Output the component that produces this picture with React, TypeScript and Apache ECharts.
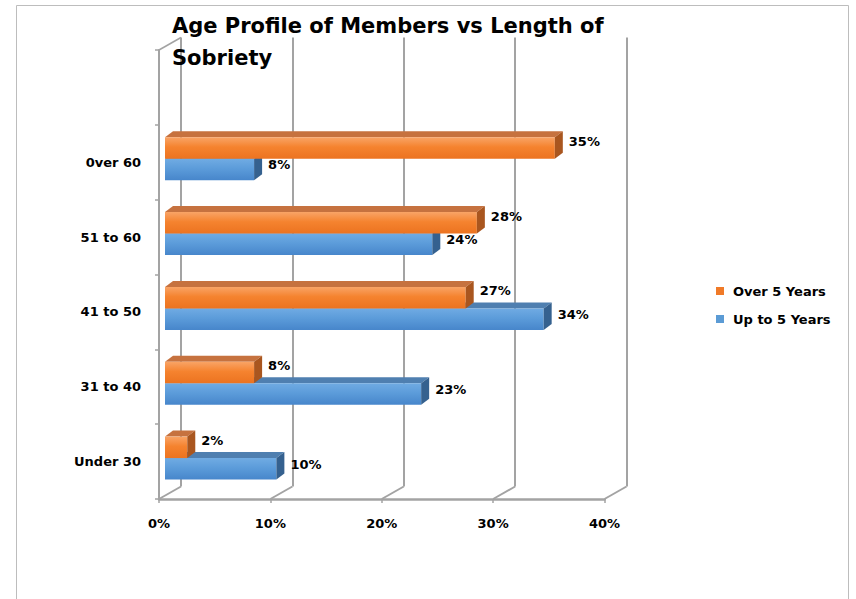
import React, { useEffect, useRef } from "react";
import * as echarts from "echarts";

// ---- data ----
const categories = ["Under 30", "31 to 40", "41 to 50", "51 to 60", "0ver 60"];
const over5Years = [2, 8, 27, 28, 35];
const upTo5Years = [10, 23, 34, 24, 8];
const xTicks = [0, 10, 20, 30, 40];
const titleText = "Age Profile of Members vs Length of\nSobriety";
const seriesNames = ["Over 5 Years", "Up to 5 Years"];

// ---- layout / style constants ----
const FONT = "'DejaVu Sans', sans-serif";
const FRONT = { left: 159, top: 50, width: 445.5, height: 449 };
const BACK_OFF = { dx: 22, dy: -12.5 };
const BAR_OFF = { dx: 6, dy: -3.5 };
const BAR_DEPTH = { dx: 8, dy: -6 };
const GRID_COLOR = "#a3a3a3";

const axisCats = [...categories, ""];

const ORANGE = {
  legend: "#f07a28",
  front: {
    type: "linear", x: 0, y: 0, x2: 0, y2: 1,
    colorStops: [
      { offset: 0, color: "#f9a466" },
      { offset: 0.45, color: "#f5832f" },
      { offset: 1, color: "#ec7320" },
    ],
  },
  top: "#c6723f",
  side: "#a9561f",
};
const BLUE = {
  legend: "#5b9bd5",
  front: {
    type: "linear", x: 0, y: 0, x2: 0, y2: 1,
    colorStops: [
      { offset: 0, color: "#70abe3" },
      { offset: 0.45, color: "#5c9cda" },
      { offset: 1, color: "#4786cb" },
    ],
  },
  top: "#4f7fb0",
  side: "#35618f",
};

function makeBarRender(upper: boolean, pal: any) {
  return (params: any, api: any) => {
    const v = api.value(0);
    const c = api.value(1);
    const start = api.coord([0, c]);
    const end = api.coord([v, c]);
    const band = api.size([0, 1])[1];
    const h = band * 0.287;
    const x0 = start[0];
    const x1 = end[0];
    const yTop = upper ? start[1] - h : start[1];
    const yBot = yTop + h;
    const { dx, dy } = BAR_DEPTH;
    return {
      type: "group",
      children: [
        {
          type: "polygon",
          shape: { points: [[x0, yTop], [x1, yTop], [x1 + dx, yTop + dy], [x0 + dx, yTop + dy]] },
          style: { fill: pal.top },
        },
        {
          type: "rect",
          shape: { x: x0, y: yTop, width: x1 - x0, height: h },
          style: { fill: pal.front },
        },
        {
          type: "polygon",
          shape: { points: [[x1, yTop], [x1 + dx, yTop + dy], [x1 + dx, yBot + dy], [x1, yBot]] },
          style: { fill: pal.side },
        },
        {
          type: "text",
          x: x1 + dx + 6,
          y: yTop + (upper ? 4 : 6),
          style: {
            text: v + "%",
            fill: "#000",
            fontFamily: FONT,
            fontWeight: "bold",
            fontSize: 13,
            verticalAlign: "middle",
            align: "left",
          },
        },
      ],
    };
  };
}

function frameRender(params: any, api: any) {
  const v = api.value(0);
  const p = api.coord([v, 0]);
  const cs = params.coordSys;
  const yb = cs.y + cs.height;
  const children: any[] = [
    {
      type: "line",
      shape: { x1: p[0], y1: yb, x2: p[0] + BACK_OFF.dx, y2: yb + BACK_OFF.dy },
      style: { stroke: GRID_COLOR, lineWidth: 2 },
    },
  ];
  if (params.dataIndex === 0) {
    children.push({
      type: "line",
      shape: { x1: p[0], y1: cs.y, x2: p[0] + BACK_OFF.dx, y2: cs.y + BACK_OFF.dy },
      style: { stroke: GRID_COLOR, lineWidth: 1.5 },
    });
  }
  return { type: "group", children };
}

const textBold = { fontFamily: FONT, fontWeight: "bold" as const, fontSize: 13, color: "#000" };

const option: any = {
  animation: false,
  backgroundColor: "#ffffff",
  title: {
    text: titleText,
    left: 172,
    top: 10,
    padding: 0,
    textStyle: { fontFamily: FONT, fontWeight: "bold", fontSize: 21, lineHeight: 32, color: "#000" },
  },
  legend: {
    data: seriesNames,
    orient: "vertical",
    left: 716,
    top: 284,
    padding: 0,
    icon: "rect",
    itemWidth: 8,
    itemHeight: 8,
    itemGap: 14,
    textStyle: { ...textBold, lineHeight: 14, padding: [0, 0, 0, 4] },
    selectedMode: false,
  },
  grid: [
    // bar plane
    { left: FRONT.left + BAR_OFF.dx, top: FRONT.top + BAR_OFF.dy, width: FRONT.width, height: FRONT.height },
    // back wall
    { left: FRONT.left + BACK_OFF.dx, top: FRONT.top + BACK_OFF.dy, width: FRONT.width, height: FRONT.height },
    // front edge
    { left: FRONT.left, top: FRONT.top, width: FRONT.width, height: FRONT.height },
  ],
  xAxis: [
    { gridIndex: 0, type: "value", min: 0, max: 40, interval: 10, show: false },
    {
      gridIndex: 1, type: "value", min: 0, max: 40, interval: 10,
      axisLine: { show: false }, axisTick: { show: false }, axisLabel: { show: false },
      splitLine: { show: true, showMinLine: true, showMaxLine: true, lineStyle: { color: GRID_COLOR, width: 2 } },
    },
    {
      gridIndex: 2, type: "value", min: 0, max: 40, interval: 10,
      axisLine: { show: true, lineStyle: { color: GRID_COLOR, width: 2.5 } },
      axisTick: { show: true, length: 4, lineStyle: { color: GRID_COLOR, width: 1.5 } },
      axisLabel: { ...textBold, margin: 18, formatter: "{value}%" },
      splitLine: { show: false },
    },
  ],
  yAxis: [
    { gridIndex: 0, type: "category", data: axisCats, show: false },
    { gridIndex: 1, type: "category", data: axisCats, show: false },
    {
      gridIndex: 2, type: "category", data: axisCats,
      axisLine: { show: true, lineStyle: { color: GRID_COLOR, width: 2 } },
      axisTick: { show: true, length: 4, lineStyle: { color: GRID_COLOR, width: 1.5 } },
      axisLabel: { ...textBold, margin: 18 },
      splitLine: { show: false },
    },
  ],
  graphic: [
    {
      type: "rect",
      shape: { x: 16.5, y: 5.5, width: 832, height: 700 },
      style: { fill: "none", stroke: "#bdbdbd", lineWidth: 1 },
      silent: true,
      z: -10,
    },
  ],
  series: [
    {
      name: "frame",
      type: "custom",
      xAxisIndex: 2,
      yAxisIndex: 2,
      silent: true,
      z: 1,
      data: xTicks.map((v) => [v, 0]),
      renderItem: frameRender,
    },
    {
      name: seriesNames[1],
      type: "custom",
      xAxisIndex: 0,
      yAxisIndex: 0,
      z: 3,
      itemStyle: { color: BLUE.legend },
      data: upTo5Years.map((v, i) => [v, i]),
      renderItem: makeBarRender(false, BLUE),
    },
    {
      name: seriesNames[0],
      type: "custom",
      xAxisIndex: 0,
      yAxisIndex: 0,
      z: 4,
      itemStyle: { color: ORANGE.legend },
      data: over5Years.map((v, i) => [v, i]),
      renderItem: makeBarRender(true, ORANGE),
    },
  ],
};

export default function App() {
  const ref = useRef<HTMLDivElement>(null);
  useEffect(() => {
    if (!ref.current) return;
    const chart = echarts.init(ref.current, null, { renderer: "svg" });
    chart.setOption(option);
    return () => chart.dispose();
  }, []);
  return (
    <div
      ref={ref}
      style={{ position: "absolute", left: 0, top: 0, width: 856, height: 599, background: "#fff" }}
    />
  );
}
